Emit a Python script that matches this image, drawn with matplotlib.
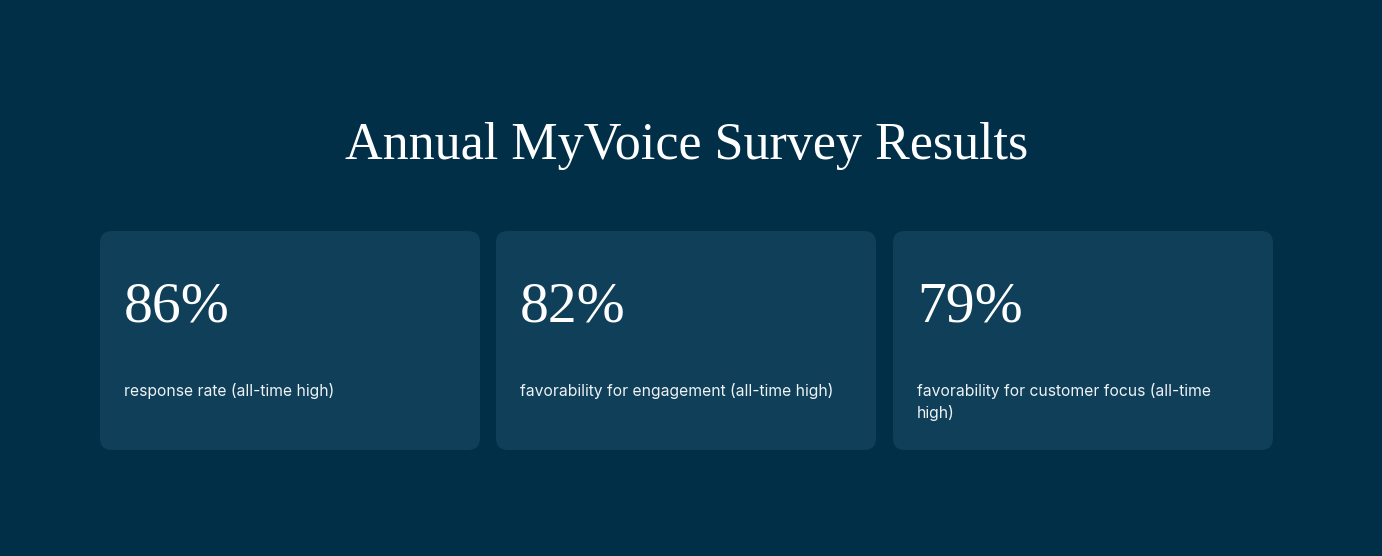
import matplotlib.pyplot as plt
from matplotlib.patches import FancyBboxPatch

# ---------- data ----------
title = "Annual MyVoice Survey Results"
values = ["86%", "82%", "79%"]
labels = [
    "response rate (all-time high)",
    "favorability for engagement (all-time high)",
    "favorability for customer focus (all-time\nhigh)",
]

# ---------- style ----------
bg = "#012f48"
card = "#0f3f59"
W, H = 1382, 556

fig = plt.figure(figsize=(W / 100, H / 100), dpi=100, facecolor=bg)
ax = fig.add_axes([0, 0, 1, 1])
ax.set_xlim(0, W)
ax.set_ylim(H, 0)
ax.axis("off")
ax.set_facecolor(bg)

ax.text(W / 2 - 4, 159, title, ha="center", va="baseline", color="white",
        fontsize=37.5, family="Liberation Serif")

card_x = [100, 496, 893]
card_w, card_y, card_h = 380, 231, 219
r = 12
for x0, v, lab in zip(card_x, values, labels):
    box = FancyBboxPatch((x0 + r, card_y + r), card_w - 2 * r, card_h - 2 * r,
                         boxstyle=f"round,pad={r}", fc=card, ec="none")
    ax.add_patch(box)
    ax.text(x0 + 24, 321, v, ha="left", va="baseline", color="white",
            fontsize=41.5, family="Liberation Serif")
    ax.text(x0 + 24, 383, lab, ha="left", va="top", color="#eef2f5",
            fontsize=11.3, family="Inter", linespacing=1.47)

fig.savefig("out.png", dpi=100, facecolor=bg)
